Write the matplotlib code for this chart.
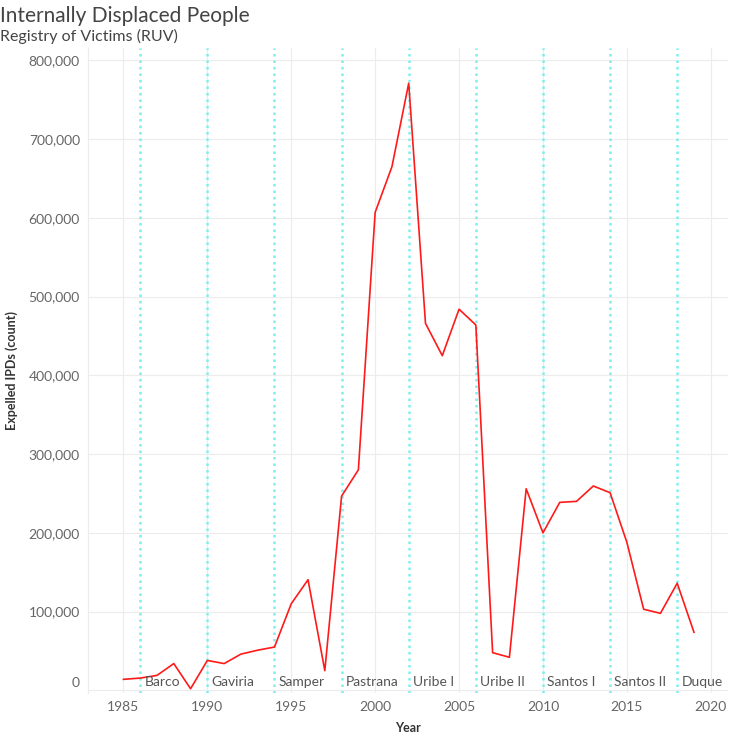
import matplotlib
matplotlib.use("Agg")
import matplotlib.pyplot as plt
import matplotlib.transforms as mtransforms
from matplotlib.ticker import FuncFormatter

plt.rcParams['font.family'] = ['Lato', 'DejaVu Sans']

years = list(range(1985, 2020))
expelled = [14000, 15600, 19000, 34000, 2000, 38000, 34000, 46000, 51000, 55000,
            110000, 140500, 25000, 246700, 280000, 607000, 665000, 771000, 466000, 425000,
            484000, 464000, 47800, 42000, 256000, 200000, 238700, 240000, 259500, 251000,
            188000, 103000, 97800, 136000, 73700]

term_start = [1986, 1990, 1994, 1998, 2002, 2006, 2010, 2014, 2018]
presidents = ['Barco', 'Gaviria', 'Samper', 'Pastrana', 'Uribe I', 'Uribe II',
              'Santos I', 'Santos II', 'Duque']

fig = plt.figure(figsize=(7.29, 7.35), dpi=100)
ax = fig.add_axes([0.121, 0.057, 0.877, 0.878])

ax.plot(years, expelled, color='#ff1a1a', linewidth=1.2, zorder=3)

for yr, name in zip(term_start, presidents):
    ax.axvline(yr, color='#80eeee', linestyle=(0, (1.0, 1.6)), linewidth=1.8, zorder=2)
    ax.text(yr + 0.25, 10000, name, fontsize=10, color='#555555', va='center', ha='left', zorder=4)

ax.set_xlim(1982.9, 2021.0)
ax.set_ylim(-3500, 816000)
ax.set_xticks(range(1985, 2021, 5))
ax.set_yticks(range(0, 800001, 100000))
ax.yaxis.set_major_formatter(FuncFormatter(lambda v, p: f'{int(v):,}'))
ax.grid(True, color='#ececec', linewidth=0.8, zorder=0)
ax.tick_params(length=0, labelsize=10, labelcolor='#666666', pad=6)
for s in ['top', 'right', 'bottom']:
    ax.spines[s].set_visible(False)
ax.spines['left'].set_color('#ececec')

# zero label sits a little above its gridline
zero_lbl = ax.get_yticklabels()[0]
zero_lbl.set_transform(zero_lbl.get_transform() +
                       mtransforms.ScaledTranslation(0, 8 / 100, fig.dpi_scale_trans))

ax.set_xlabel('Year', fontsize=9, fontweight='bold', color='#333333', labelpad=6)
ax.set_ylabel('Expelled IPDs (count)', fontsize=9, fontweight='bold', color='#333333', labelpad=8)

fig.text(0.0, 0.992, 'Internally Displaced People', fontsize=15, color='#444444',
         va='top', ha='left')
fig.text(0.0, 0.960, 'Registry of Victims (RUV)', fontsize=11.5, color='#444444',
         va='top', ha='left')

fig.savefig('out.png', dpi=100)
